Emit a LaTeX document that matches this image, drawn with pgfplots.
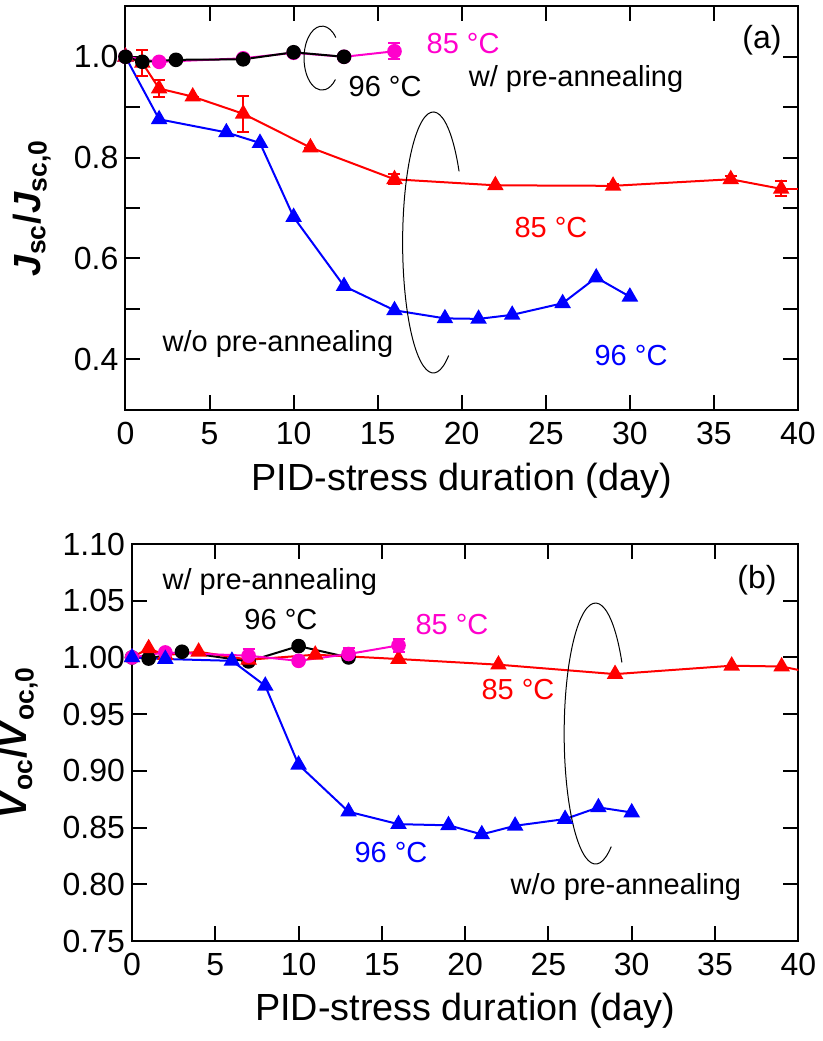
\documentclass[border=0pt]{standalone}
\usepackage{fontspec}
\setmainfont{Liberation Sans}
\usepackage{pgfplots}
\pgfplotsset{compat=1.18}
\definecolor{mag}{RGB}{255,0,204}
\newcommand{\annfont}{\fontsize{14.5}{17}\selectfont}
\newcommand{\labfont}{\fontsize{18.9}{22}\selectfont}
\pgfplotsset{
 myaxis/.style={
  scale only axis, anchor=south west,
  xmin=0, xmax=40, xtick={0,5,...,40},
  tick align=inside, major tick length=7.5pt, minor tick length=7.5pt,
  axis line style={line width=1pt},
  every tick/.style={black, line width=1pt},
  tick label style={font=\fontsize{16}{19}\selectfont},
  /pgf/number format/assume math mode=true,
  every axis x label/.style={at={(axis description cs:0.5,-0.2)}, anchor=base, font=\labfont},
  xticklabel style={yshift=-2.7pt},
  every axis plot/.append style={line width=1pt},
 },
 errs/.style={error bars/.cd, y dir=both, y explicit,
   error bar style={line width=1pt},
   error mark options={rotate=90, line width=1pt, mark size=3pt}},
}
\begin{document}
\begin{tikzpicture}
\path[use as bounding box] (0,0) rectangle (411.5pt,520.5pt);
% ---------- (a) ----------
\begin{axis}[myaxis,
  at={(62.75pt,315.7pt)}, width=336.25pt, height=201.6pt,
  ymin=0.3, ymax=1.1, ytick={0.4,0.6,0.8,1.0}, minor ytick={0.5,0.7,0.9},
  yticklabel style={/pgf/number format/.cd, fixed, fixed zerofill, precision=1},
  xlabel={PID-stress duration (day)},
  ylabel={\textbf{\textit{J}\textsubscript{sc}/\textit{J}\textsubscript{sc,0}}},
  every axis y label/.style={at={(axis description cs:-0.127,0.5)}, rotate=90, anchor=base, font=\labfont},
]
\addplot[blue, mark=triangle*, mark size=3.8pt] coordinates {
 (0,1.0)(2,0.876)(6,0.850)(8,0.829)(10,0.682)(13,0.545)(16,0.497)(19,0.481)(21,0.480)(23,0.488)(26,0.511)(28,0.562)(30,0.524)};
\addplot[red, no marks] coordinates {(39,0.738)(41,0.738)};
\addplot[red, mark=triangle*, mark size=3.8pt, errs] coordinates {
 (0,1.0) +- (0,0) (1,0.988) +- (0,0.026) (2,0.937) +- (0,0.016) (4,0.921) +- (0,0)
 (7,0.887) +- (0,0.036) (11,0.820) +- (0,0) (16,0.757) +- (0,0.01) (22,0.745) +- (0,0)
 (29,0.744) +- (0,0.004) (36,0.757) +- (0,0.006) (39,0.738) +- (0,0.015)};
\addplot[mag, mark=*, mark size=3.15pt, errs] coordinates {
 (0,1.0) +- (0,0) (2,0.990) +- (0,0) (7,0.997) +- (0,0) (10,1.008) +- (0,0) (13,1.0) +- (0,0) (16,1.011) +- (0,0.016)};
\addplot[black, mark=*, mark size=3.15pt] coordinates {
 (0,1.0)(1,0.990)(3,0.994)(7,0.995)(10,1.009)(13,1.0)};
\draw[line width=0.5pt] (axis cs:11.69,0.9974) ++(40:9pt and 16pt) arc[start angle=40, end angle=318, x radius=9pt, y radius=16pt];
\draw[line width=0.5pt] (axis cs:18.31,0.6316) ++(33:15.35pt and 65.25pt) arc[start angle=33, end angle=300, x radius=15.35pt, y radius=65.25pt];
\node[font=\annfont, text=mag, inner sep=0] at (axis cs:20.08,1.0272) {85 °C};
\node[font=\annfont, inner sep=0] at (axis cs:15.44,0.9417) {96 °C};
\node[font=\annfont, inner sep=0, anchor=base] at (axis cs:26.80,0.9404) {w/ pre-annealing};
\node[font=\fontsize{16}{19}\selectfont, inner sep=0] at (axis cs:37.86,1.0332) {(a)};
\node[font=\annfont, text=red, inner sep=0] at (axis cs:25.31,0.6614) {85 °C};
\node[font=\annfont, text=blue, inner sep=0] at (axis cs:30.07,0.4070) {96 °C};
\node[font=\annfont, inner sep=0, anchor=base] at (axis cs:9.07,0.4155) {w/o pre-annealing};
\end{axis}
% ---------- (b) ----------
\begin{axis}[myaxis,
  at={(66pt,50pt)}, width=333.15pt, height=198.5pt,
  ymin=0.75, ymax=1.10, ytick={0.75,0.80,...,1.101},
  yticklabel style={/pgf/number format/.cd, fixed, fixed zerofill, precision=2},
  xlabel={PID-stress duration (day)},
  ylabel={\textbf{\textit{V}\textsubscript{oc}/\textit{V}\textsubscript{oc,0}}},
  every axis y label/.style={at={(axis description cs:-0.1576,0.5)}, rotate=90, anchor=base, font=\labfont},
]
\addplot[black, mark=*, mark size=3.15pt] coordinates {
 (0,1.0)(1,0.999)(3,1.005)(7,0.9965)(10,1.010)(13,1.0)};
\addplot[red, no marks] coordinates {(39,0.992)(41,0.986)};
\addplot[red, mark=triangle*, mark size=3.8pt] coordinates {
 (0,1.0)(1,1.008)(2,1.002)(4,1.005)(7,0.998)(11,1.0024)(16,0.9986)(22,0.9936)(29,0.9853)(36,0.9927)(39,0.992)};
\addplot[mag, mark=*, mark size=3.15pt, errs] coordinates {
 (0,1.0) +- (0,0) (2,1.0044) +- (0,0) (7,1.0015) +- (0,0.006) (10,0.997) +- (0,0) (13,1.003) +- (0,0.005) (16,1.0106) +- (0,0.006)};
\addplot[blue, mark=triangle*, mark size=3.8pt] coordinates {
 (0,1.0)(2,0.9986)(6,0.997)(8,0.975)(10,0.9054)(13,0.864)(16,0.853)(19,0.852)(21,0.8440)(23,0.8516)(26,0.8575)(28,0.8678)(30,0.8633)};
\draw[line width=0.5pt] (axis cs:27.83,0.9329) ++(33:15.7pt and 65.25pt) arc[start angle=33, end angle=300, x radius=15.7pt, y radius=65.25pt];
\node[font=\annfont, inner sep=0, anchor=base] at (axis cs:8.28,1.0597) {w/ pre-annealing};
\node[font=\annfont, inner sep=0] at (axis cs:8.94,1.0332) {96 °C};
\node[font=\annfont, text=mag, inner sep=0] at (axis cs:19.21,1.0288) {85 °C};
\node[font=\annfont, text=red, inner sep=0] at (axis cs:23.17,0.9715) {85 °C};
\node[font=\fontsize{16}{19}\selectfont, inner sep=0] at (axis cs:37.52,1.0685) {(b)};
\node[font=\annfont, text=blue, inner sep=0] at (axis cs:15.55,0.8278) {96 °C};
\node[font=\annfont, inner sep=0, anchor=base] at (axis cs:29.65,0.7907) {w/o pre-annealing};
\end{axis}
\end{tikzpicture}
\end{document}
